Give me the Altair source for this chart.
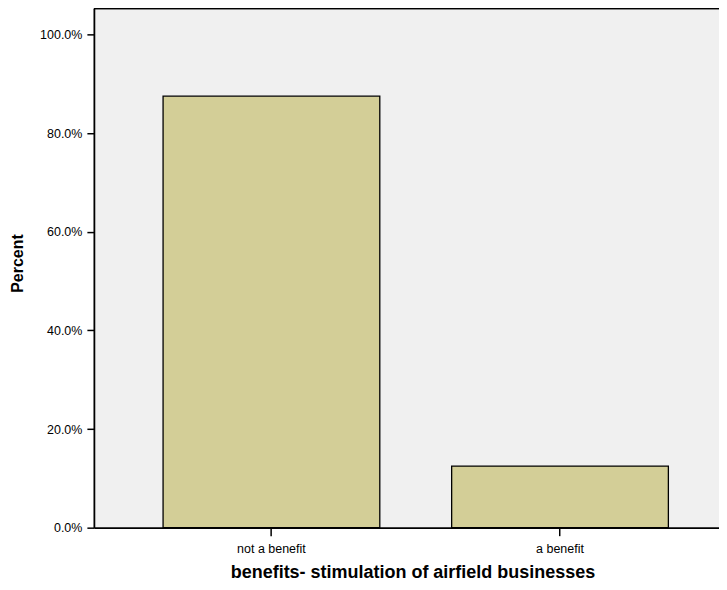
import altair as alt
import pandas as pd

categories = ["not a benefit", "a benefit"]
percents = [87.5, 12.5]
y_ticks = [0, 20, 40, 60, 80, 100]

df = pd.DataFrame({"category": categories, "percent": percents})

W = 626
H = 520
FONT = "Liberation Sans"

bars = alt.Chart(df).mark_bar(
    color="#D3CE97", stroke="black", strokeWidth=1.3
).encode(
    x=alt.X(
        "category:N",
        sort=categories,
        scale=alt.Scale(paddingInner=0.249, paddingOuter=0.2076, align=0.5775),
        axis=alt.Axis(
            title="benefits- stimulation of airfield businesses",
            labelAngle=0,
            labelFontSize=12.5,
            labelFont=FONT,
            labelColor="black",
            labelBaseline="alphabetic",
            labelPadding=17,
            tickSize=8,
            tickColor="black",
            tickWidth=1.5,
            domainColor="black",
            domainWidth=1.8,
            titleFont=FONT,
            titleFontSize=18,
            titleFontWeight="bold",
            titleColor="black",
            titleBaseline="alphabetic",
            titleAlign="center",
            titleX=319,
            titleY=50,
        ),
    ),
    y=alt.Y(
        "percent:Q",
        scale=alt.Scale(domain=[0, 105.3], nice=False, zero=True),
        axis=alt.Axis(
            title="Percent",
            values=y_ticks,
            labelExpr="format(datum.value, '.1f') + '%'",
            grid=False,
            labelFontSize=12.5,
            labelFont=FONT,
            labelColor="black",
            labelPadding=5,
            tickSize=7,
            tickColor="black",
            tickWidth=1.5,
            domainColor="black",
            domainWidth=1.8,
            titleFont=FONT,
            titleFontSize=16,
            titleFontWeight="bold",
            titleColor="black",
            titleAngle=-90,
            titleBaseline="middle",
            titleAlign="center",
            titleX=-76,
            titleY=255,
        ),
    ),
)

top_line = alt.Chart(df).mark_rule(color="black", strokeWidth=1.8).encode(
    x=alt.value(0), x2=alt.value(W), y=alt.value(0)
)

chart = alt.layer(bars, top_line).properties(
    width=W,
    height=H,
    autosize=alt.AutoSizeParams(type="none"),
    padding={"left": 86, "top": 0, "right": 0, "bottom": 54},
    background="white",
).configure_view(
    fill="#F0F0F0", stroke=None
)

chart.save("out.html", embed_options={"renderer": "svg", "actions": False})
